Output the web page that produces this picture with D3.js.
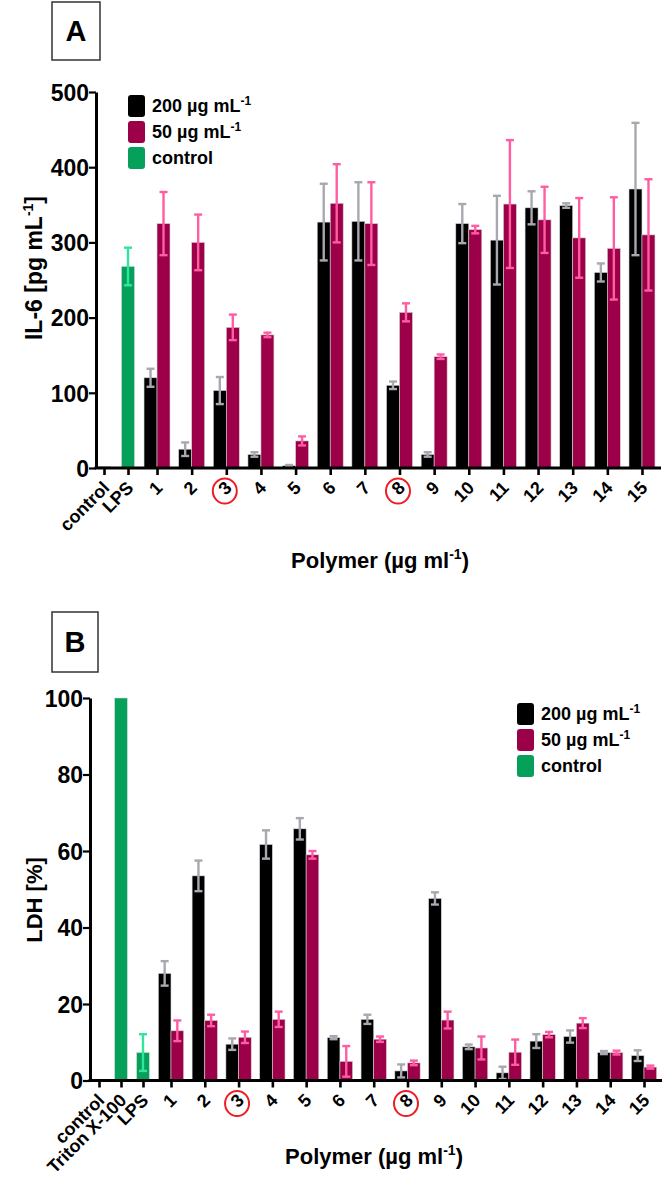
<!DOCTYPE html>
<html>
<head>
<meta charset="utf-8">
<script src="https://cdn.jsdelivr.net/npm/d3@7"></script>
<style>
body { margin: 0; background: #fff; }
text { font-family: "Liberation Sans", Arial, sans-serif; font-weight: bold; fill: #000; }
</style>
</head>
<body>
<div id="main"></div>
<script>
// ---- data ----
var polymers = ["1","2","3","4","5","6","7","8","9","10","11","12","13","14","15"];
var circled = ["3","8"];
var seriesNames = ["200 µg mL", "50 µg mL", "control"];

// panel A : IL-6 [pg/mL]
var ilCtrlCats = ["control","LPS"];
var ilCtrl     = [2, 268];
var ilCtrlErr  = [0, 25];
var il200      = [120, 25, 103, 18, 3, 327, 328, 110, 18, 325, 303, 346, 349, 260, 371];
var il200Err   = [12, 9, 18, 3, 1, 51, 52, 5, 3, 26, 59, 22, 3, 12, 88];
var il50       = [325, 300, 187, 177, 36, 352, 325, 207, 148, 317, 351, 330, 306, 292, 310];
var il50Err    = [42, 37, 17, 3, 6, 52, 55, 12, 3, 5, 85, 44, 53, 68, 74];
var ilTicks    = [0, 100, 200, 300, 400, 500];

// panel B : LDH [%]
var ldhCtrlCats = ["control","Triton X-100","LPS"];
var ldhCtrl     = [0, 100, 7.3];
var ldhCtrlErr  = [0, 0, 4.8];
var ldh200      = [28, 53.5, 9.5, 61.7, 65.8, 11.2, 16, 2.5, 47.6, 8.8, 2, 10.3, 11.5, 7.3, 6.5];
var ldh200Err   = [3.2, 4, 1.5, 3.7, 2.8, 0.4, 1.2, 1.7, 1.6, 0.6, 1.6, 1.8, 1.6, 0.4, 1.4];
var ldh50       = [13, 15.7, 11.3, 16, 59, 5, 10.8, 4.6, 15.8, 8.5, 7.4, 12, 15, 7.3, 3.5];
var ldh50Err    = [2.7, 1.5, 1.5, 2, 1, 4, 0.7, 0.6, 2.2, 3, 3.3, 0.7, 1.3, 0.5, 0.4];
var ldhTicks    = [0, 20, 40, 60, 80, 100];

var ctx = {
    w: 666,
    h: 1180,
    fill: ["#000000", "#9c0049", "#05a05a"],
    err:  ["#a8a8b0", "#ff5ca2", "#30e69c"],
};

var drawPanel = function(svg, cfg){
    var g = svg.append("g");
    var y = d3.scaleLinear().domain([0, cfg.yMax]).range([cfg.bottom, cfg.top]);
    var xCtrl = d3.scalePoint().domain(cfg.ctrlCats).range(cfg.ctrlRange);
    var xPoly = d3.scaleBand().domain(polymers).range(cfg.polyRange);
    var bw = xPoly.bandwidth() * 0.375;
    var allCats = cfg.ctrlCats.concat(polymers);
    // one ordinal scale for every tick position on the x axis
    var x = d3.scaleOrdinal().domain(allCats).range(allCats.map(function(c){
        return cfg.ctrlCats.indexOf(c) >= 0 ? xCtrl(c) : xPoly(c) + xPoly.bandwidth()/2;
    }));

    var bars = [];
    cfg.ctrl.forEach(function(v, i){
        bars.push({x: x(cfg.ctrlCats[i]) - bw/2, v: v, e: cfg.ctrlErr[i], s: 2});
    });
    polymers.forEach(function(p, i){
        bars.push({x: x(p) - bw, v: cfg.s200[i], e: cfg.s200Err[i], s: 0});
        bars.push({x: x(p),      v: cfg.s50[i],  e: cfg.s50Err[i],  s: 1});
    });

    g.append("g").selectAll("rect")
      .data(bars.filter(function(d){ return d.v > 0; }))
      .enter().append("rect")
      .attr("x", function(d){ return d.x; })
      .attr("y", function(d){ return y(d.v); })
      .attr("width", bw)
      .attr("height", function(d){ return y(0) - y(d.v); })
      .attr("fill", function(d){ return ctx.fill[d.s]; })
      .attr("stroke", "#d4d4d4")
      .attr("stroke-width", 0.6);

    // error bars (whisker + caps)
    var eg = g.append("g").selectAll("g")
      .data(bars.filter(function(d){ return d.e > 0; }))
      .enter().append("g")
      .attr("stroke", function(d){ return ctx.err[d.s]; })
      .attr("stroke-width", 2.4);
    eg.append("line")
      .attr("x1", function(d){ return d.x + bw/2; })
      .attr("x2", function(d){ return d.x + bw/2; })
      .attr("y1", function(d){ return y(d.v + d.e); })
      .attr("y2", function(d){ return y(Math.max(0, d.v - d.e)); });
    eg.append("line")
      .attr("x1", function(d){ return d.x + bw/2 - 4; })
      .attr("x2", function(d){ return d.x + bw/2 + 4; })
      .attr("y1", function(d){ return y(d.v + d.e); })
      .attr("y2", function(d){ return y(d.v + d.e); });
    eg.append("line")
      .attr("x1", function(d){ return d.x + bw/2 - 4; })
      .attr("x2", function(d){ return d.x + bw/2 + 4; })
      .attr("y1", function(d){ return y(Math.max(0, d.v - d.e)); })
      .attr("y2", function(d){ return y(Math.max(0, d.v - d.e)); });

    // y axis
    var ya = g.append("g")
      .attr("transform", "translate(" + cfg.left + ",0)")
      .call(d3.axisLeft(y).tickValues(cfg.ticks).tickSize(7).tickSizeOuter(0).tickPadding(0));
    ya.select(".domain").attr("stroke-width", 3);
    ya.selectAll(".tick line").attr("stroke-width", 2.2);
    ya.selectAll(".tick text").style("font-size", "23px").style("font-family", null)
      .attr("dy", "0.36em");

    // x axis
    var xa = g.append("g")
      .attr("transform", "translate(0," + cfg.bottom + ")")
      .call(d3.axisBottom(x).tickSize(7).tickSizeOuter(0));
    xa.select(".domain").remove();
    xa.selectAll(".tick line").attr("stroke-width", 2.6);
    xa.selectAll(".tick text")
      .attr("x", 6).attr("y", 21).attr("dy", 0)
      .attr("transform", "rotate(-45 6 21)")
      .style("text-anchor", "end")
      .style("font-size", "18px")
      .style("font-family", null);
    xa.selectAll(".tick").filter(function(d){ return circled.indexOf(d) >= 0; })
      .append("ellipse")
      .attr("cx", -2).attr("cy", 23).attr("rx", 12).attr("ry", 12.5)
      .attr("fill", "none").attr("stroke", "#ee1c24").attr("stroke-width", 2);
    g.append("line")
      .attr("x1", cfg.left - 1.5).attr("x2", cfg.right)
      .attr("y1", cfg.bottom).attr("y2", cfg.bottom)
      .attr("stroke", "#000").attr("stroke-width", 3);

    // axis titles
    var yt = g.append("text")
      .attr("transform", "translate(" + cfg.yTitlePos[0] + "," + cfg.yTitlePos[1] + ") rotate(-90)")
      .style("text-anchor", "middle")
      .style("font-size", cfg.yTitleSize);
    yt.append("tspan").text(cfg.yTitle[0]);
    if (cfg.yTitle.length > 1){
        yt.append("tspan").attr("dy", -9).style("font-size", "14px").text(cfg.yTitle[1]);
        yt.append("tspan").attr("dy", 9).text(cfg.yTitle[2]);
    }
    var xt = g.append("text")
      .attr("x", cfg.xTitlePos[0]).attr("y", cfg.xTitlePos[1])
      .style("text-anchor", "middle")
      .style("font-size", "22px");
    xt.append("tspan").text("Polymer (µg ml");
    xt.append("tspan").attr("dy", -9).style("font-size", "14px").text("-1");
    xt.append("tspan").attr("dy", 9).text(")");

    // panel letter in a box
    g.append("rect")
      .attr("x", cfg.box[0]).attr("y", cfg.box[1])
      .attr("width", cfg.box[2]).attr("height", cfg.box[3])
      .attr("fill", "none").attr("stroke", "#333").attr("stroke-width", 1.5);
    g.append("text")
      .attr("x", cfg.box[0] + cfg.box[2]/2).attr("y", cfg.box[1] + cfg.box[3]/2 + 10)
      .style("text-anchor", "middle").style("font-size", "29px")
      .text(cfg.letter);

    // legend
    var lg = g.append("g").attr("transform", "translate(" + cfg.legend[0] + "," + cfg.legend[1] + ")");
    var row = lg.selectAll("g").data(seriesNames).enter().append("g")
      .attr("transform", function(d, i){ return "translate(0," + (i * 26) + ")"; });
    row.append("rect")
      .attr("width", 17).attr("height", 22).attr("rx", 3)
      .attr("fill", function(d, i){ return ctx.fill[i]; });
    var lt = row.append("text").attr("x", 24).attr("y", 17).style("font-size", "18px");
    lt.append("tspan").text(function(d){ return d; });
    lt.filter(function(d, i){ return i < 2; })
      .append("tspan").attr("dy", -7).style("font-size", "12px").text("-1");
};

var createViz = function(){
    var svg = d3.select("#main").append("svg")
      .attr("width", ctx.w).attr("height", ctx.h);
    drawPanel(svg, {
        letter: "A", box: [52, 2, 48, 58],
        left: 96, right: 661, top: 92, bottom: 468, yMax: 500, ticks: ilTicks,
        ctrlCats: ilCtrlCats, ctrlRange: [104, 128], polyRange: [139.7, 659.3],
        ctrl: ilCtrl, ctrlErr: ilCtrlErr,
        s200: il200, s200Err: il200Err, s50: il50, s50Err: il50Err,
        legend: [128, 95],
        yTitle: ["IL-6 [pg mL", "-1", "]"], yTitlePos: [42, 268], yTitleSize: "23px",
        xTitlePos: [380, 568]
    });
    drawPanel(svg, {
        letter: "B", box: [52, 612, 46, 60],
        left: 90, right: 662, top: 698, bottom: 1080.5, yMax: 100, ticks: ldhTicks,
        ctrlCats: ldhCtrlCats, ctrlRange: [99, 143], polyRange: [154.1, 660.9],
        ctrl: ldhCtrl, ctrlErr: ldhCtrlErr,
        s200: ldh200, s200Err: ldh200Err, s50: ldh50, s50Err: ldh50Err,
        legend: [517, 703],
        yTitle: ["LDH [%]"], yTitlePos: [42, 900], yTitleSize: "22px",
        xTitlePos: [374, 1164]
    });
};

createViz();
</script>
</body>
</html>
